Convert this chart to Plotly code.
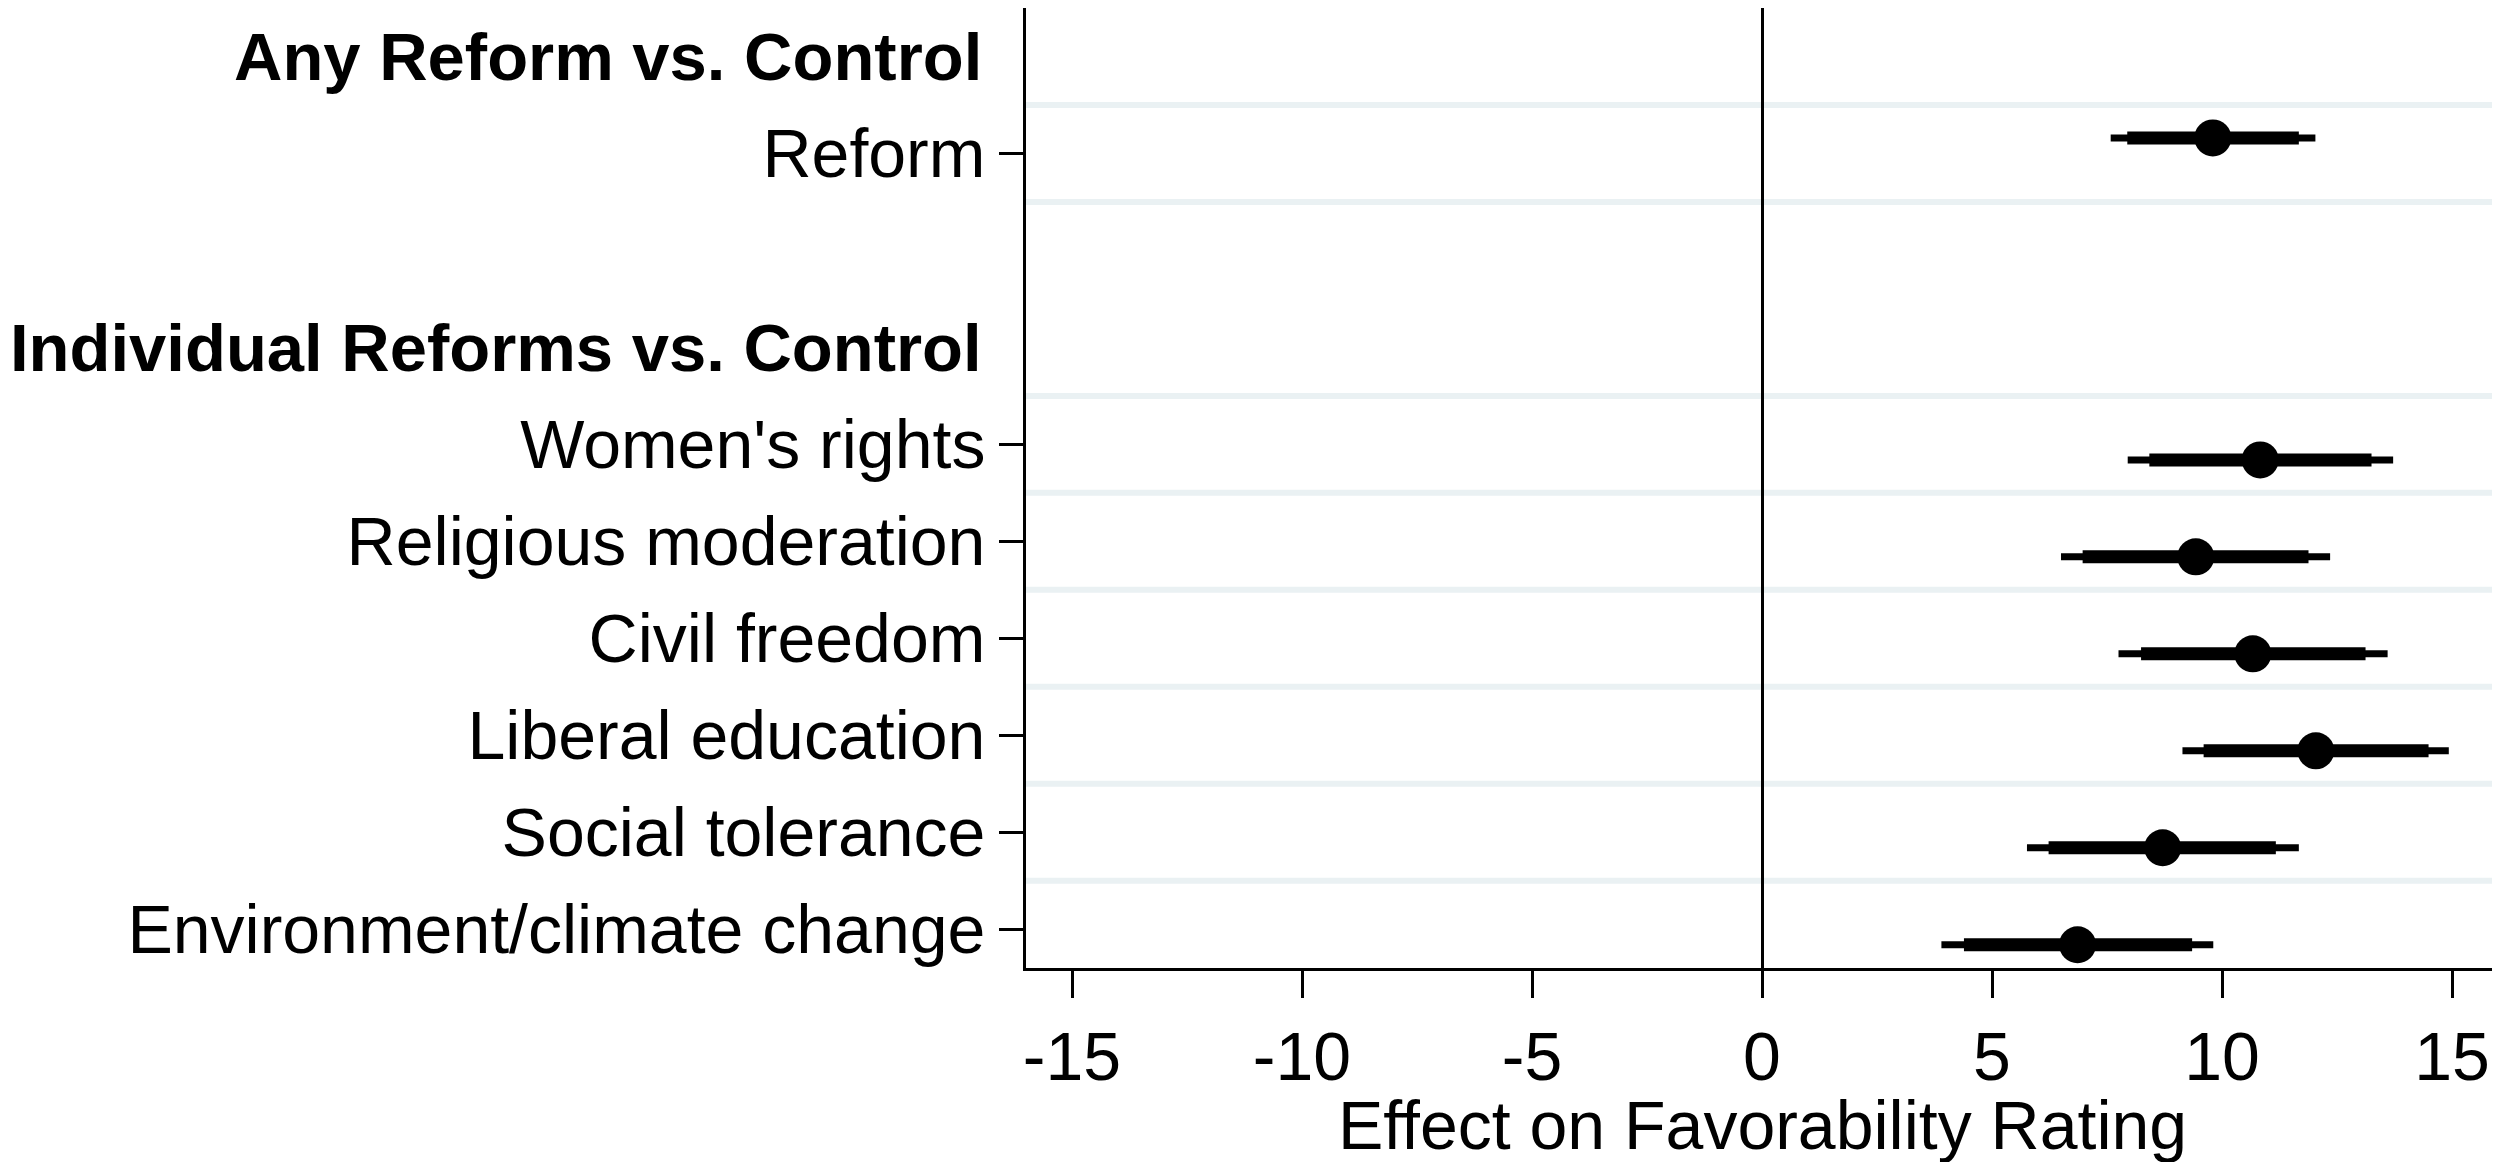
import plotly.graph_objects as go

# ---- data ----
groups = ["Any Reform vs. Control", "Individual Reforms vs. Control"]
item_group = [0, 1, 1, 1, 1, 1, 1]
labels = ["Reform", "Women's rights", "Religious moderation", "Civil freedom",
          "Liberal education", "Social tolerance", "Environment/climate change"]
estimate = [9.80, 10.83, 9.43, 10.67, 12.04, 8.71, 6.86]
ci90_lo = [7.94, 8.42, 6.97, 8.24, 9.60, 6.23, 4.39]
ci90_hi = [11.67, 13.25, 11.88, 13.12, 14.49, 11.17, 9.35]
ci95_lo = [7.58, 7.95, 6.50, 7.75, 9.14, 5.76, 3.90]
ci95_hi = [12.03, 13.72, 12.35, 13.60, 14.93, 11.67, 9.81]
x_ticks = [-15, -10, -5, 0, 5, 10, 15]
x_title = "Effect on Favorability Rating"

# ---- row layout: header row, item rows, blank row between groups ----
header_pos = []
item_pos = []
row = 0
for g in range(len(groups)):
    if g > 0:
        row += 1  # blank spacer row
    header_pos.append(row)
    row += 1
    for i, ig in enumerate(item_group):
        if ig == g:
            item_pos.append(row)
            row += 1

# model offsets (coefplot-style)
offsets = [-0.16, 0.16]
ypts = [item_pos[i] + offsets[item_group[i]] for i in range(len(labels))]

FONT = "Liberation Sans, Arial, sans-serif"
FS = 67
FS_LAB = 68
TICKLEN = 24

fig = go.Figure()

def seg(lo, hi):
    xs, ys = [], []
    for a, b, y in zip(lo, hi, ypts):
        xs += [a, b, None]
        ys += [y, y, None]
    return xs, ys

x95, y95 = seg(ci95_lo, ci95_hi)
fig.add_trace(go.Scatter(x=x95, y=y95, mode="lines",
                         line=dict(color="black", width=7), hoverinfo="skip",
                         showlegend=False))
x90, y90 = seg(ci90_lo, ci90_hi)
fig.add_trace(go.Scatter(x=x90, y=y90, mode="lines",
                         line=dict(color="black", width=13), hoverinfo="skip",
                         showlegend=False))
fig.add_trace(go.Scatter(x=estimate, y=ypts, mode="markers",
                         marker=dict(color="black", size=37, symbol="circle",
                                     line=dict(width=0)),
                         showlegend=False))

y_range = [9.4, -0.5]

# light grid lines at half-steps around each item row
grid = sorted(set([p - 0.5 for p in item_pos] + [p + 0.5 for p in item_pos]))
for gy in grid:
    if min(y_range) < gy < max(y_range):
        fig.add_shape(type="line", xref="paper", yref="y", x0=0, x1=1,
                      y0=gy, y1=gy, layer="below",
                      line=dict(color="#eaf1f3", width=6))

# bold group headers
for g, p in zip(groups, header_pos):
    fig.add_annotation(text="<b>" + g + "</b>", xref="paper", yref="y",
                       x=0, y=p, xanchor="right", yanchor="middle",
                       xshift=-42, showarrow=False,
                       font=dict(family=FONT, size=FS, color="black"))

# x-axis title
fig.add_annotation(text=x_title, xref="x", yref="paper", x=0, y=0,
                   xanchor="center", yanchor="middle", yshift=-157,
                   showarrow=False,
                   font=dict(family=FONT, size=FS_LAB, color="black"))

fig.update_layout(
    width=2500, height=1162,
    margin=dict(l=1018, r=4, t=0, b=202),
    paper_bgcolor="white", plot_bgcolor="white",
    font=dict(family=FONT, size=FS, color="black"),
    showlegend=False,
)
fig.update_xaxes(
    range=[-16, 16.13], tickvals=x_ticks, ticktext=[str(v) for v in x_ticks],
    ticks="outside", ticklen=27, tickwidth=3, tickcolor="black",
    showline=True, linewidth=3, linecolor="black",
    showgrid=False, zeroline=True, zerolinecolor="black", zerolinewidth=3,
    tickfont=dict(family=FONT, size=FS_LAB, color="black"),
)
fig.update_yaxes(
    range=y_range, tickvals=item_pos, ticktext=labels,
    ticks="outside", ticklen=TICKLEN, tickwidth=3, tickcolor="black",
    showline=True, linewidth=3, linecolor="black",
    showgrid=False, zeroline=False,
    tickfont=dict(family=FONT, size=FS_LAB, color="black"),
)

fig.write_html("out.html")
